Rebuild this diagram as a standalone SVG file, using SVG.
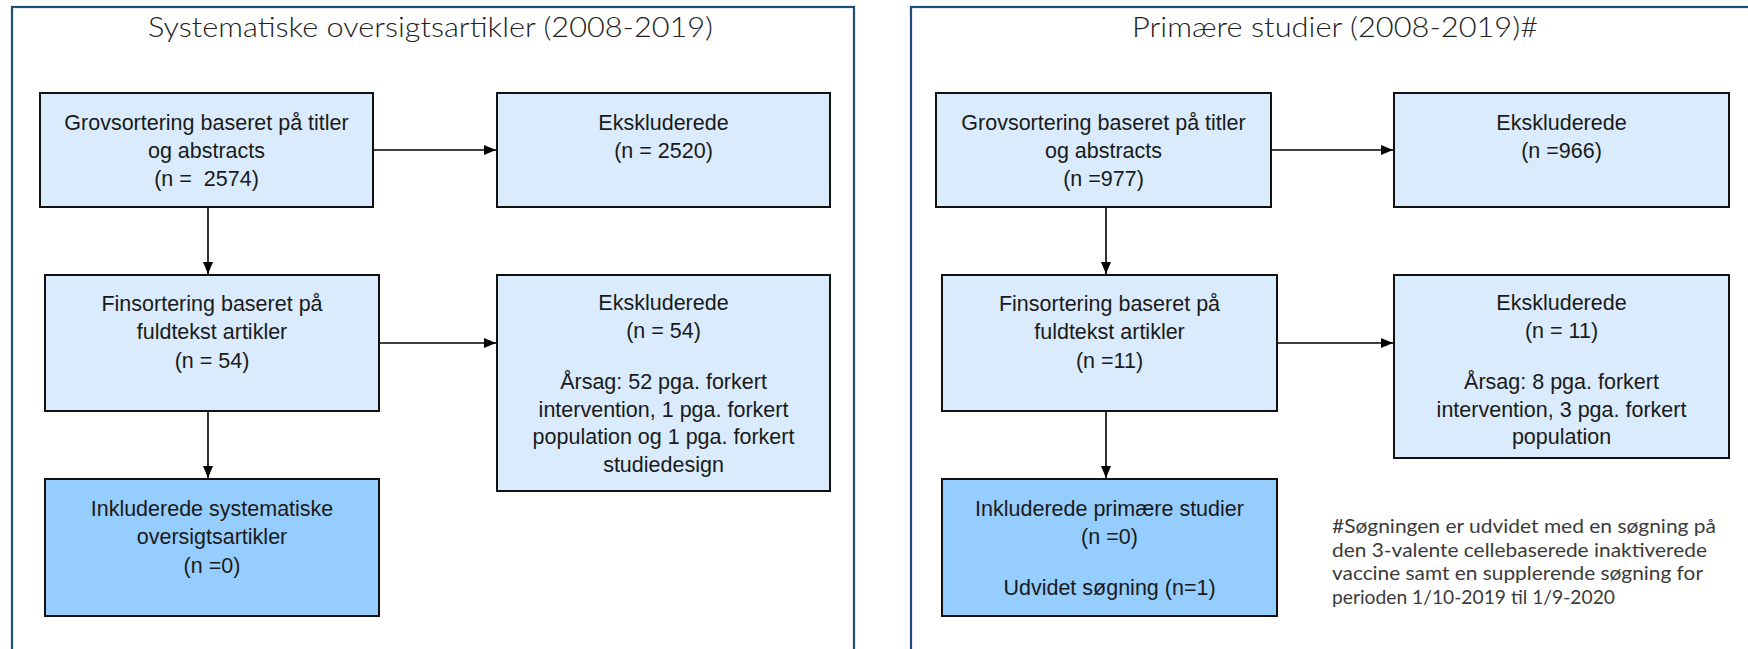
<svg xmlns="http://www.w3.org/2000/svg" width="1748" height="649" viewBox="0 0 1748 649">
<style>
.panel{fill:#fff;stroke:#1F4E79;stroke-width:2.2}
.box{fill:#D9EBFC;stroke:#111;stroke-width:2}
.inc{fill:#95CDFE;stroke:#111;stroke-width:2}
.t{font-family:"Liberation Sans",Arial,sans-serif;font-size:21.5px;fill:#1a1a1a;text-anchor:middle;white-space:pre}
.title{font-family:Lato,"Liberation Sans",sans-serif;font-weight:300;font-size:28px;fill:#222}
.note{font-family:Lato,"Liberation Sans",sans-serif;font-size:19px;fill:#3a3a3a}
.c{stroke:#000;stroke-width:1.6;fill:none}
</style>
<defs>
<marker id="ah" markerUnits="userSpaceOnUse" markerWidth="12" markerHeight="10" refX="12" refY="5" orient="auto">
<path d="M0,0 L12,5 L0,10 Z" fill="#000"/>
</marker>
</defs>
<rect width="1748" height="649" fill="#fff"/>
<g id="panel-left">
<rect class="panel" x="12" y="7" width="842" height="660"/>
<text class="title" x="148" y="37" textLength="565" lengthAdjust="spacingAndGlyphs">Systematiske oversigtsartikler (2008-2019)</text>
</g>
<g id="panel-right">
<rect class="panel" x="911" y="7" width="860" height="660"/>
<text class="title" x="1132" y="37" textLength="406" lengthAdjust="spacingAndGlyphs">Primære studier (2008-2019)#</text>
</g>
<g id="connectors">
<path class="c" d="M373,150 H496" marker-end="url(#ah)"/>
<path class="c" d="M208,207 V274" marker-end="url(#ah)"/>
<path class="c" d="M379,343 H496" marker-end="url(#ah)"/>
<path class="c" d="M208,411 V478" marker-end="url(#ah)"/>
<path class="c" d="M1271,150 H1393" marker-end="url(#ah)"/>
<path class="c" d="M1106,207 V274" marker-end="url(#ah)"/>
<path class="c" d="M1277,343 H1393" marker-end="url(#ah)"/>
<path class="c" d="M1106,411 V478" marker-end="url(#ah)"/>
</g>
<g id="L1">
<rect class="box" x="40" y="93" width="333" height="114"/>
<text class="t" x="206.5" y="130">Grovsortering baseret på titler</text>
<text class="t" x="206.5" y="158">og abstracts</text>
<text class="t" x="206.5" y="186">(n =  2574)</text>
</g>
<g id="L2">
<rect class="box" x="497" y="93" width="333" height="114"/>
<text class="t" x="663.5" y="130">Ekskluderede</text>
<text class="t" x="663.5" y="158">(n = 2520)</text>
</g>
<g id="L3">
<rect class="box" x="45" y="275" width="334" height="136"/>
<text class="t" x="212" y="311">Finsortering baseret på</text>
<text class="t" x="212" y="339">fuldtekst artikler</text>
<text class="t" x="212" y="368">(n = 54)</text>
</g>
<g id="L4">
<rect class="box" x="497" y="275" width="333" height="216"/>
<text class="t" x="663.5" y="310">Ekskluderede</text>
<text class="t" x="663.5" y="338">(n = 54)</text>
<text class="t" x="663.5" y="389">Årsag: 52 pga. forkert</text>
<text class="t" x="663.5" y="416.5">intervention, 1 pga. forkert</text>
<text class="t" x="663.5" y="444">population og 1 pga. forkert</text>
<text class="t" x="663.5" y="471.5">studiedesign</text>
</g>
<g id="L5">
<rect class="inc" x="45" y="479" width="334" height="137"/>
<text class="t" x="212" y="516">Inkluderede systematiske</text>
<text class="t" x="212" y="544">oversigtsartikler</text>
<text class="t" x="212" y="573">(n =0)</text>
</g>
<g id="R1">
<rect class="box" x="936" y="93" width="335" height="114"/>
<text class="t" x="1103.5" y="130">Grovsortering baseret på titler</text>
<text class="t" x="1103.5" y="158">og abstracts</text>
<text class="t" x="1103.5" y="186">(n =977)</text>
</g>
<g id="R2">
<rect class="box" x="1394" y="93" width="335" height="114"/>
<text class="t" x="1561.5" y="130">Ekskluderede</text>
<text class="t" x="1561.5" y="158">(n =966)</text>
</g>
<g id="R3">
<rect class="box" x="942" y="275" width="335" height="136"/>
<text class="t" x="1109.5" y="311">Finsortering baseret på</text>
<text class="t" x="1109.5" y="339">fuldtekst artikler</text>
<text class="t" x="1109.5" y="368">(n =11)</text>
</g>
<g id="R4">
<rect class="box" x="1394" y="275" width="335" height="183"/>
<text class="t" x="1561.5" y="310">Ekskluderede</text>
<text class="t" x="1561.5" y="338">(n = 11)</text>
<text class="t" x="1561.5" y="389">Årsag: 8 pga. forkert</text>
<text class="t" x="1561.5" y="416.5">intervention, 3 pga. forkert</text>
<text class="t" x="1561.5" y="444">population</text>
</g>
<g id="R5">
<rect class="inc" x="942" y="479" width="335" height="137"/>
<text class="t" x="1109.5" y="516">Inkluderede primære studier</text>
<text class="t" x="1109.5" y="544">(n =0)</text>
<text class="t" x="1109.5" y="595">Udvidet søgning (n=1)</text>
</g>
<g id="footnote">
<text class="note" x="1332" y="533" textLength="384" lengthAdjust="spacingAndGlyphs">#Søgningen er udvidet med en søgning på</text>
<text class="note" x="1332" y="556.5" textLength="375" lengthAdjust="spacingAndGlyphs">den 3-valente cellebaserede inaktiverede</text>
<text class="note" x="1332" y="580" textLength="371" lengthAdjust="spacingAndGlyphs">vaccine samt en supplerende søgning for</text>
<text class="note" x="1332" y="603.5" textLength="283" lengthAdjust="spacingAndGlyphs">perioden 1/10-2019 til 1/9-2020</text>
</g>
</svg>
